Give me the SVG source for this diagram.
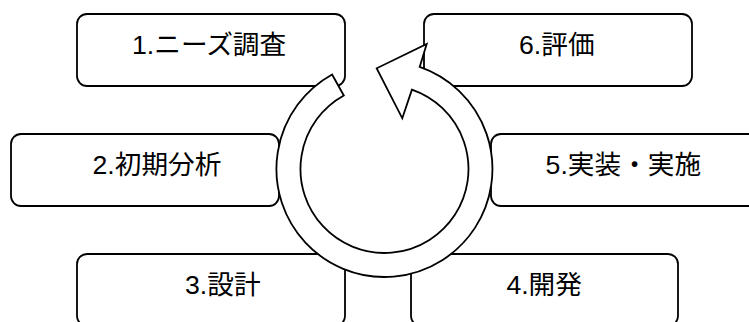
<svg xmlns="http://www.w3.org/2000/svg" width="749" height="322" viewBox="0 0 749 322">
  <style>
    .box { fill: #ffffff; stroke: #000000; stroke-width: 1.8; }
    .lbl { font-family: "Liberation Sans", "Noto Sans CJK JP", sans-serif; font-size: 26.67px; fill: #000000; }
    .ring { fill: #ffffff; stroke: #000000; stroke-width: 1.8; stroke-linejoin: miter; }
  </style>
  <rect width="749" height="322" fill="#ffffff"/>
  <g id="node1">
    <rect class="box" x="77" y="14" width="268" height="72" rx="10" ry="10"/>
    <text class="lbl" x="132" y="53.5">1.ニーズ調査</text>
  </g>
  <g id="node2">
    <rect class="box" x="11" y="134" width="268" height="72" rx="10" ry="10"/>
    <text class="lbl" x="92.5" y="173.5">2.初期分析</text>
  </g>
  <g id="node3">
    <rect class="box" x="77" y="254" width="268" height="72" rx="10" ry="10"/>
    <text class="lbl" x="185" y="294">3.設計</text>
  </g>
  <g id="node4">
    <rect class="box" x="411" y="254" width="267" height="72" rx="10" ry="10"/>
    <text class="lbl" x="506.4" y="294">4.開発</text>
  </g>
  <g id="node5">
    <rect class="box" x="491" y="134" width="268" height="72" rx="10" ry="10"/>
    <text class="lbl" x="545.6" y="173.5">5.実装・実施</text>
  </g>
  <g id="node6">
    <rect class="box" x="424" y="14" width="268" height="72" rx="10" ry="10"/>
    <text class="lbl" x="519" y="53.5">6.評価</text>
  </g>
  <g id="connectors">
    <path class="ring" d="M 419.7 66.9 A 108 108 0 1 1 332.1 74.5 L 343.8 95.5 A 84 84 0 1 0 411.9 89.6 L 402.3 118.3 L 376.7 68.3 L 426.7 44 Z"/>
  </g>
</svg>
